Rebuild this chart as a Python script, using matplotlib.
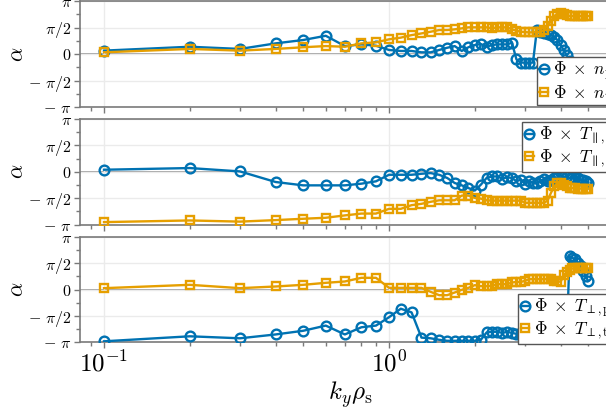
import numpy as np
import matplotlib
matplotlib.use('Agg')
import matplotlib.pyplot as plt
from matplotlib.ticker import FixedLocator, NullFormatter

plt.rcParams['mathtext.fontset'] = 'cm'
plt.rcParams['font.family'] = 'serif'

BLUE = '#0072B2'
ORANGE = '#E69F00'
GREY = '#7a7a7a'

# k_y rho_s
ky = [0.1, 0.2, 0.3, 0.4, 0.5, 0.6, 0.7, 0.8, 0.9,
      1.0, 1.1, 1.2, 1.3, 1.4, 1.5, 1.6, 1.7, 1.8, 1.9,
      2.0, 2.1, 2.2, 2.3, 2.4, 2.5, 2.6, 2.7, 2.8, 2.9,
      3.0, 3.1, 3.2, 3.3, 3.4, 3.5, 3.6, 3.7, 3.8, 3.9,
      4.0, 4.1, 4.2, 4.3, 4.4, 4.5, 4.6, 4.7, 4.8, 4.9, 5.0]

# phase angles (rad)
n_p = [0.20, 0.43, 0.30, 0.63, 0.83, 1.08, 0.47, 0.57, 0.49,
       0.24, 0.18, 0.18, 0.10, 0.10, 0.24, 0.37, 0.47, 0.18, 0.40,
       0.53, 0.59, 0.43, 0.53, 0.57, 0.57, 0.57, 0.67, -0.32, -0.51,
       -0.51, -0.51, -0.51, 1.40, 1.30, 1.25, 1.20, 1.12, 1.00, 0.83,
       0.53, 0.24, -0.06, -0.40, -0.60, -0.80, -0.95, -1.05, -1.15, -1.20, -1.25]
n_t = [0.10, 0.30, 0.20, 0.30, 0.40, 0.47, 0.43, 0.63, 0.69,
       0.87, 0.97, 1.12, 1.22, 1.32, 1.42, 1.42, 1.46, 1.52, 1.58,
       1.58, 1.58, 1.58, 1.52, 1.58, 1.58, 1.58, 1.46, 1.38, 1.32,
       1.30, 1.28, 1.28, 1.30, 1.32, 1.42, 1.65, 1.95, 2.25, 2.40,
       2.45, 2.40, 2.30, 2.25, 2.25, 2.25, 2.25, 2.25, 2.25, 2.25, 2.25]

tpar_p = [0.12, 0.22, 0.02, -0.61, -0.81, -0.81, -0.81, -0.71, -0.57,
          -0.18, -0.18, -0.18, -0.12, -0.08, -0.18, -0.37, -0.67, -0.81, -0.97,
          -1.12, -0.77, -0.37, -0.28, -0.28, -0.41, -0.33, -0.37, -0.57, -0.47,
          -0.73, -0.57, -0.65, -0.65, -0.57, -0.41, -0.57, -0.47, -0.37, -0.37,
          -0.08, -0.02, -0.28, -0.37, -0.35, -0.37, -0.37, -0.47, -0.51, -0.57, -0.65]
tpar_t = [-3.00, -2.90, -2.97, -2.88, -2.80, -2.74, -2.60, -2.49, -2.49,
          -2.21, -2.21, -1.99, -1.91, -1.79, -1.70, -1.70, -1.70, -1.42, -1.42,
          -1.56, -1.60, -1.70, -1.72, -1.72, -1.72, -1.72, -1.72, -1.72, -1.72,
          -1.85, -1.85, -1.85, -1.85, -1.85, -1.85, -1.72, -1.26, -0.87, -0.67,
          -0.67, -0.77, -0.85, -0.97, -0.97, -0.97, -1.00, -1.00, -1.00, -1.00, -1.00]

tperp_p = [-3.10, -2.80, -2.92, -2.69, -2.47, -2.16, -2.69, -2.26, -2.16,
           -1.66, -1.15, -1.37, -2.88, -2.92, -3.01, -3.07, -3.07, -3.07, -3.07,
           -3.07, -3.01, -2.57, -2.53, -2.53, -2.60, -2.53, -2.60, -2.65, -2.70,
           -2.75, -2.80, -2.90, -2.95, -2.95, -2.95, -3.00, -3.00, -2.95, -3.00,
           -3.05, -3.05, -3.10, 2.00, 1.90, 1.80, 1.60, 1.40, 1.10, 0.80, 0.50]
tperp_t = [0.08, 0.28, 0.08, 0.18, 0.28, 0.40, 0.48, 0.70, 0.70,
           0.10, 0.10, 0.10, 0.10, -0.14, -0.34, -0.34, -0.18, -0.02, 0.10,
           0.26, 0.20, 0.20, 0.22, 0.32, 0.32, 0.32, 0.42, 0.45, 0.45,
           0.52, 0.62, 0.62, 0.62, 0.62, 0.62, 0.62, 0.62, 0.52, 0.52,
           0.45, 0.86, 1.02, 1.18, 1.26, 1.26, 1.26, 1.26, 1.26, 1.26, 1.26]

panels = [
    (n_p, n_t, r'$\Phi\;\times\;n_\mathrm{p}$', r'$\Phi\;\times\;n_\mathrm{t}$', (0.846, 0.472)),
    (tpar_p, tpar_t, r'$\Phi\;\times\;T_{\parallel,\mathrm{p}}$', r'$\Phi\;\times\;T_{\parallel,\mathrm{t}}$', (0.819, 0.972)),
    (tperp_p, tperp_t, r'$\Phi\;\times\;T_{\perp,\mathrm{p}}$', r'$\Phi\;\times\;T_{\perp,\mathrm{t}}$', (0.811, 0.457)),
]

fig = plt.figure(figsize=(6.06, 4.08), dpi=100)

W, H = 606, 408
left, right = 80, 620
tops = [1, 119, 237]
bots = [107, 224.5, 342]

yt = [-np.pi, -np.pi/2, 0, np.pi/2, np.pi]
ytl = [r'$-\ \pi$', r'$-\ \pi/2$', r'$0$', r'$\pi/2$', r'$\pi$']

for i, (yp, yt_, lp, lt, lpos) in enumerate(panels):
    ax = fig.add_axes([left / W, 1 - bots[i] / H, (right - left) / W, (bots[i] - tops[i]) / H])
    ax.set_xscale('log')
    ax.set_xlim(10 ** ((left - 389) / 285), 10 ** ((right - 389) / 285))
    ax.set_ylim(-np.pi, np.pi)

    ax.grid(True, which='major', color='#ebebeb', lw=1, zorder=0)
    ax.axhline(0, color='#999999', lw=1.3, zorder=1)

    ax.plot(ky, yp, '-o', color=BLUE, lw=1.7, ms=7, mfc='none', mew=1.7, label=lp, zorder=3)
    ax.plot(ky, yt_, '-s', color=ORANGE, lw=1.7, ms=6.2, mfc='none', mew=1.7, label=lt, zorder=3)

    ax.set_yticks(yt)
    ax.set_yticklabels(ytl, fontsize=11.5)
    ax.yaxis.set_minor_locator(FixedLocator([-3*np.pi/4, -np.pi/4, np.pi/4, 3*np.pi/4]))
    ax.set_xticks([0.1, 1])
    if i < 2:
        ax.xaxis.set_major_formatter(NullFormatter())
    else:
        ax.set_xticklabels([r'$10^{-1}$', r'$10^{0}$'], fontsize=18)
        ax.set_xlabel(r'$k_y\rho_\mathrm{s}$', fontsize=18, labelpad=2)
    ax.xaxis.set_minor_formatter(NullFormatter())

    for s in ['left', 'top', 'bottom']:
        ax.spines[s].set_color(GREY)
        ax.spines[s].set_linewidth(1.2)
    ax.spines['right'].set_visible(False)
    ax.tick_params(which='both', direction='out', color=GREY, width=1, pad=2)
    ax.tick_params(which='major', length=4)
    ax.tick_params(which='minor', length=3)

    ax.set_ylabel(r'$\alpha$', fontsize=16)
    ax.yaxis.set_label_coords(-0.095, 0.5)

    leg = ax.legend(loc='upper left', bbox_to_anchor=lpos, borderaxespad=0,
                    fontsize=12.5, handlelength=0.5, handletextpad=0.3,
                    borderpad=0.15, labelspacing=-0.03, fancybox=False,
                    framealpha=1, edgecolor='#555555')
    leg.get_frame().set_linewidth(1)
    leg.set_zorder(5)

fig.savefig('out.png', dpi=100)
